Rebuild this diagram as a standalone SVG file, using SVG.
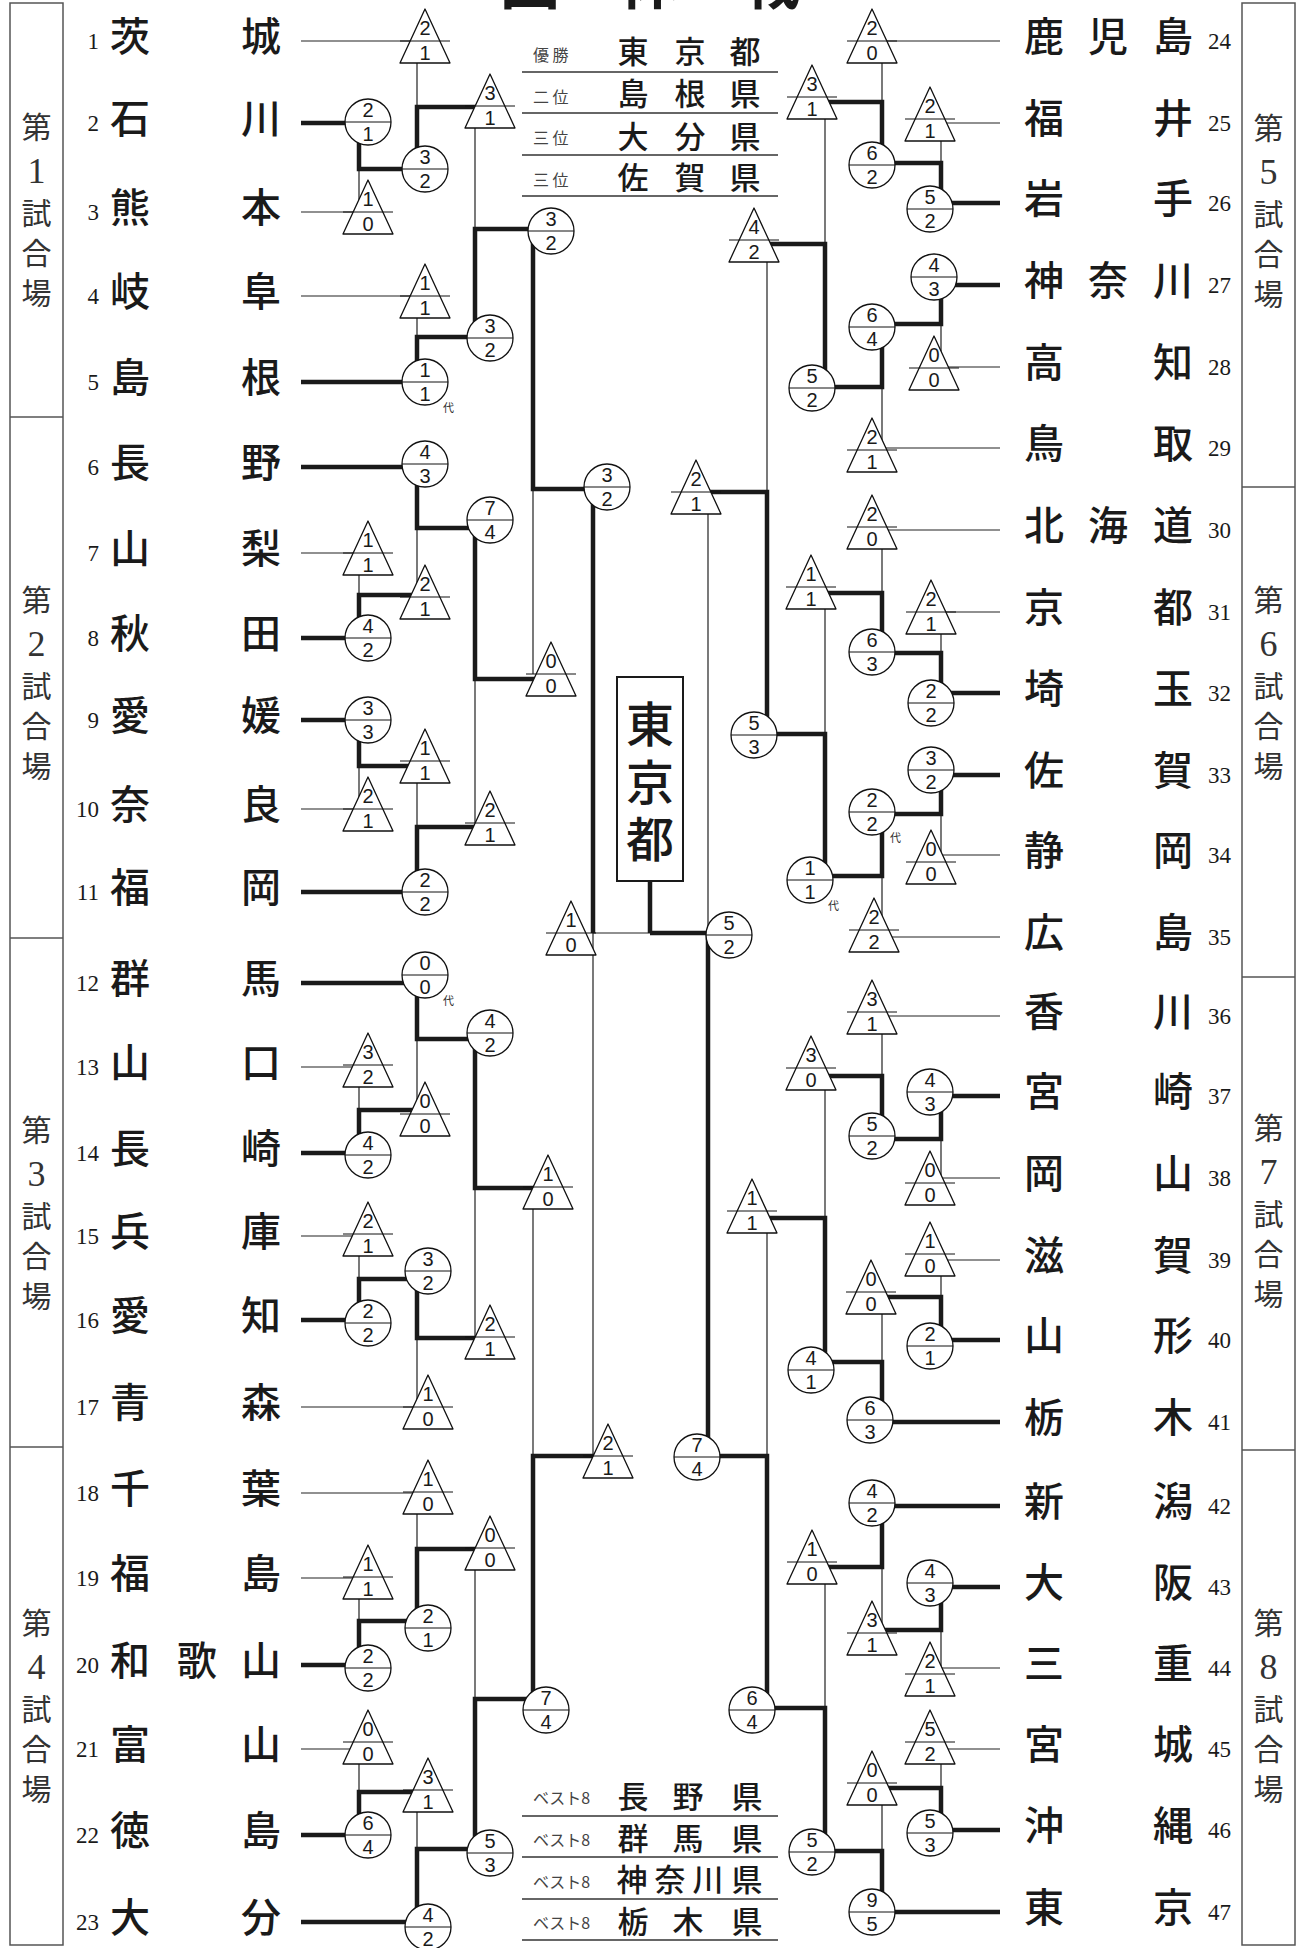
<svg xmlns="http://www.w3.org/2000/svg" xmlns:xlink="http://www.w3.org/1999/xlink" width="1300" height="1948" viewBox="0 0 1300 1948">
<defs>
<style>
.tn{font-family:"Noto Sans CJK JP","Noto Sans CJK SC",sans-serif;font-size:40px;font-weight:500;text-anchor:middle;fill:#1a1a1a}
.num{font-family:"Liberation Serif",serif;font-size:23px;fill:#1a1a1a}
.s{font-family:"Liberation Sans",Arial,sans-serif;font-size:20px;text-anchor:middle;fill:#1a1a1a}
.vn{font-family:"Noto Sans CJK JP",sans-serif;font-size:30px;text-anchor:middle;fill:#333}
.vd{font-family:"Liberation Serif",serif;font-size:36px;text-anchor:middle;fill:#333}
.lab{font-family:"Noto Sans CJK JP",sans-serif;font-size:16px;fill:#444}
.rn{font-family:"Noto Sans CJK JP",sans-serif;font-size:31px;font-weight:500;text-anchor:middle;fill:#1a1a1a}
.ch{font-family:"Noto Sans CJK JP",sans-serif;font-size:48px;font-weight:500;fill:#1a1a1a;writing-mode:vertical-rl;letter-spacing:9.5px}
.dai{font-family:"Noto Sans CJK JP",sans-serif;font-size:11px;fill:#333}
.thin{fill:none;stroke:#222;stroke-width:1.2}
.thick{fill:none;stroke:#1a1a1a;stroke-width:4.5;stroke-linejoin:miter}
.box{fill:none;stroke:#555;stroke-width:1.5}
.rule{stroke:#333;stroke-width:1.5}
</style>
<g id="circ"><circle r="23" fill="#fff" stroke="#111" stroke-width="1.3"/><line x1="-23" x2="23" stroke="#111" stroke-width="1"/></g>
<g id="tri"><path d="M0,-32 L25,22 L-25,22 Z" fill="#fff" stroke="#111" stroke-width="1.3" stroke-linejoin="round"/><line x1="-25" x2="25" stroke="#111" stroke-width="1"/></g>
</defs>
<rect width="1300" height="1948" fill="#fff"/>

<g id="title"><text x="650" y="4" font-family="Noto Sans CJK JP, sans-serif" font-size="60" font-weight="bold" text-anchor="middle" fill="#1a1a1a" xml:space="preserve">団　体　戦</text></g>

<g id="venue-boxes">
<rect class="box" x="10" y="3" width="53" height="1942"/>
<line class="box" x1="10" y1="417" x2="63" y2="417"/>
<line class="box" x1="10" y1="938" x2="63" y2="938"/>
<line class="box" x1="10" y1="1447" x2="63" y2="1447"/>
<rect class="box" x="1242" y="3" width="53" height="1942"/>
<line class="box" x1="1242" y1="487" x2="1295" y2="487"/>
<line class="box" x1="1242" y1="977" x2="1295" y2="977"/>
<line class="box" x1="1242" y1="1450" x2="1295" y2="1450"/>
</g>
<g id="venue1"><text class="vn" x="36.5" y="138">第</text><text class="vd" x="36.5" y="183">1</text><text class="vn" x="36.5" y="224">試</text><text class="vn" x="36.5" y="264">合</text><text class="vn" x="36.5" y="304">場</text></g>
<g id="venue2"><text class="vn" x="36.5" y="611">第</text><text class="vd" x="36.5" y="656">2</text><text class="vn" x="36.5" y="697">試</text><text class="vn" x="36.5" y="737">合</text><text class="vn" x="36.5" y="777">場</text></g>
<g id="venue3"><text class="vn" x="36.5" y="1141">第</text><text class="vd" x="36.5" y="1186">3</text><text class="vn" x="36.5" y="1227">試</text><text class="vn" x="36.5" y="1267">合</text><text class="vn" x="36.5" y="1307">場</text></g>
<g id="venue4"><text class="vn" x="36.5" y="1634">第</text><text class="vd" x="36.5" y="1679">4</text><text class="vn" x="36.5" y="1720">試</text><text class="vn" x="36.5" y="1760">合</text><text class="vn" x="36.5" y="1800">場</text></g>
<g id="venue5"><text class="vn" x="1268.5" y="139">第</text><text class="vd" x="1268.5" y="184">5</text><text class="vn" x="1268.5" y="225">試</text><text class="vn" x="1268.5" y="265">合</text><text class="vn" x="1268.5" y="305">場</text></g>
<g id="venue6"><text class="vn" x="1268.5" y="611">第</text><text class="vd" x="1268.5" y="656">6</text><text class="vn" x="1268.5" y="697">試</text><text class="vn" x="1268.5" y="737">合</text><text class="vn" x="1268.5" y="777">場</text></g>
<g id="venue7"><text class="vn" x="1268.5" y="1139">第</text><text class="vd" x="1268.5" y="1184">7</text><text class="vn" x="1268.5" y="1225">試</text><text class="vn" x="1268.5" y="1265">合</text><text class="vn" x="1268.5" y="1305">場</text></g>
<g id="venue8"><text class="vn" x="1268.5" y="1634">第</text><text class="vd" x="1268.5" y="1679">8</text><text class="vn" x="1268.5" y="1720">試</text><text class="vn" x="1268.5" y="1760">合</text><text class="vn" x="1268.5" y="1800">場</text></g>

<g id="results-top">
<line class="rule" x1="522" y1="72" x2="778" y2="72"/><line class="rule" x1="522" y1="113" x2="778" y2="113"/><line class="rule" x1="522" y1="155" x2="778" y2="155"/><line class="rule" x1="522" y1="196" x2="778" y2="196"/>
<text class="lab" x="533" y="61" xml:space="preserve">優 勝</text><text class="rn" x="633 690 745" y="63">東京都</text>
<text class="lab" x="533" y="103" xml:space="preserve">二 位</text><text class="rn" x="633 690 745" y="105">島根県</text>
<text class="lab" x="533" y="144" xml:space="preserve">三 位</text><text class="rn" x="633 690 745" y="148">大分県</text>
<text class="lab" x="533" y="186" xml:space="preserve">三 位</text><text class="rn" x="633 690 745" y="189">佐賀県</text>
</g>
<g id="results-bottom">
<line class="rule" x1="522" y1="1816" x2="778" y2="1816"/><line class="rule" x1="522" y1="1857" x2="778" y2="1857"/><line class="rule" x1="522" y1="1899" x2="778" y2="1899"/><line class="rule" x1="522" y1="1940" x2="778" y2="1940"/>
<text class="lab" x="533" y="1804">ベスト8</text><text class="rn" x="633 688 747" y="1808">長野県</text>
<text class="lab" x="533" y="1846">ベスト8</text><text class="rn" x="633 688 747" y="1850">群馬県</text>
<text class="lab" x="533" y="1888">ベスト8</text><text class="rn" x="632 670 708 747" y="1891">神奈川県</text>
<text class="lab" x="533" y="1929">ベスト8</text><text class="rn" x="633 688 747" y="1933">栃木県</text>
</g>

<g id="connectors">
<path class="thin" d="M301,41H425M301,212H368M301,296H425M301,553H368M301,809H368M301,1067H368M301,1236H368M301,1407H428M301,1493H428M301,1578H368M301,1749H368
M359,169V212M417,41V107M417,296V337M475,106V229M359,553V595M417,528V597M359,766V809M417,761V827M475,679V823M533,489V674
M359,1065V1110M417,1039V1114M359,1234V1279M417,1338V1407M475,1188V1337M359,1577V1621M417,1492V1549M359,1742V1792M417,1790V1849M475,1548V1699M533,1187V1456
M593,933V1456M593,933H650
M1000,41H872M1000,123H930M1000,367H934M1000,448H872M1000,530H872M1000,612H931M1000,855H931M1000,937H874M1000,1016H872M1000,1178H930M1000,1260H930M1000,1668H930M1000,1749H930
M941,119V163M882,41V102M941,324V368M882,387V450M825,97V244M941,612V653M882,527V593M941,814V862M882,876V930M825,587V734M767,240V492
M941,1139V1183M882,1012V1076M941,1254V1297M882,1292V1362M825,1068V1218M941,1630V1674M882,1567V1633M941,1742V1788M882,1783V1851M825,1562V1708M767,1211V1456
M708,492V933"/>
<path class="thick" d="M301,123H368M301,382H425M301,467H425M301,638H368M301,720H368M301,892H425M301,983H425M301,1153H368M301,1320H368M301,1665H368M301,1835H368M301,1922H428
M359,122V169H425M417,169V107H490M417,382V337H490M475,338V229H551M359,638V595H425M417,464V528H490M359,720V766H425M417,892V827H490M475,520V679H551M533,231V489H607
M359,1155V1110H425M417,975V1039H490M359,1323V1279H428M417,1271V1338H490M475,1033V1188H548M359,1668V1621H428M417,1628V1549H490M359,1835V1792H428M417,1927V1849H490M475,1853V1699H546M533,1710V1456H608
M593,487V933
M1000,203H930M1000,285H934M1000,693H931M1000,775H931M1000,1096H930M1000,1340H930M1000,1422H870M1000,1506H872M1000,1587H930M1000,1830H930M1000,1912H872
M941,209V163H872M882,165V102H812M941,277V324H872M882,327V387H812M825,388V244H754M941,703V653H872M882,652V593H811M941,770V814H872M882,812V876H810M825,880V734H754M767,735V492H696
M941,1092V1139H872M882,1136V1076H811M941,1346V1297H871M882,1420V1362H811M825,1370V1218H752M941,1583V1630H872M882,1503V1567H812M941,1833V1788H872M882,1912V1851H812M825,1852V1708H752M767,1710V1456H697
M708,1457V933H650M650,881V933"/>
</g>

<g id="champion"><rect x="617" y="677" width="66" height="204" fill="#fff" stroke="#1a1a1a" stroke-width="2"/><text class="ch" x="650" y="700">東京都</text></g>

<g id="teams-left">
<g id="team1"><text class="num" x="99" y="49" text-anchor="end">1</text><text class="tn" x="130 261" y="51">茨城</text></g>
<g id="team2"><text class="num" x="99" y="131" text-anchor="end">2</text><text class="tn" x="130 261" y="133">石川</text></g>
<g id="team3"><text class="num" x="99" y="220" text-anchor="end">3</text><text class="tn" x="130 261" y="222">熊本</text></g>
<g id="team4"><text class="num" x="99" y="304" text-anchor="end">4</text><text class="tn" x="130 261" y="306">岐阜</text></g>
<g id="team5"><text class="num" x="99" y="390" text-anchor="end">5</text><text class="tn" x="130 261" y="392">島根</text></g>
<g id="team6"><text class="num" x="99" y="475" text-anchor="end">6</text><text class="tn" x="130 261" y="477">長野</text></g>
<g id="team7"><text class="num" x="99" y="561" text-anchor="end">7</text><text class="tn" x="130 261" y="563">山梨</text></g>
<g id="team8"><text class="num" x="99" y="646" text-anchor="end">8</text><text class="tn" x="130 261" y="648">秋田</text></g>
<g id="team9"><text class="num" x="99" y="728" text-anchor="end">9</text><text class="tn" x="130 261" y="730">愛媛</text></g>
<g id="team10"><text class="num" x="99" y="817" text-anchor="end">10</text><text class="tn" x="130 261" y="819">奈良</text></g>
<g id="team11"><text class="num" x="99" y="900" text-anchor="end">11</text><text class="tn" x="130 261" y="902">福岡</text></g>
<g id="team12"><text class="num" x="99" y="991" text-anchor="end">12</text><text class="tn" x="130 261" y="993">群馬</text></g>
<g id="team13"><text class="num" x="99" y="1075" text-anchor="end">13</text><text class="tn" x="130 261" y="1077">山口</text></g>
<g id="team14"><text class="num" x="99" y="1161" text-anchor="end">14</text><text class="tn" x="130 261" y="1163">長崎</text></g>
<g id="team15"><text class="num" x="99" y="1244" text-anchor="end">15</text><text class="tn" x="130 261" y="1246">兵庫</text></g>
<g id="team16"><text class="num" x="99" y="1328" text-anchor="end">16</text><text class="tn" x="130 261" y="1330">愛知</text></g>
<g id="team17"><text class="num" x="99" y="1415" text-anchor="end">17</text><text class="tn" x="130 261" y="1417">青森</text></g>
<g id="team18"><text class="num" x="99" y="1501" text-anchor="end">18</text><text class="tn" x="130 261" y="1503">千葉</text></g>
<g id="team19"><text class="num" x="99" y="1586" text-anchor="end">19</text><text class="tn" x="130 261" y="1588">福島</text></g>
<g id="team20"><text class="num" x="99" y="1673" text-anchor="end">20</text><text class="tn" x="130 197 261" y="1675">和歌山</text></g>
<g id="team21"><text class="num" x="99" y="1757" text-anchor="end">21</text><text class="tn" x="130 261" y="1759">富山</text></g>
<g id="team22"><text class="num" x="99" y="1843" text-anchor="end">22</text><text class="tn" x="130 261" y="1845">徳島</text></g>
<g id="team23"><text class="num" x="99" y="1930" text-anchor="end">23</text><text class="tn" x="130 261" y="1932">大分</text></g>
</g>

<g id="teams-right">
<g id="team24"><text class="tn" x="1044 1108 1173" y="51">鹿児島</text><text class="num" x="1208" y="49">24</text></g>
<g id="team25"><text class="tn" x="1044 1173" y="133">福井</text><text class="num" x="1208" y="131">25</text></g>
<g id="team26"><text class="tn" x="1044 1173" y="213">岩手</text><text class="num" x="1208" y="211">26</text></g>
<g id="team27"><text class="tn" x="1044 1108 1173" y="295">神奈川</text><text class="num" x="1208" y="293">27</text></g>
<g id="team28"><text class="tn" x="1044 1173" y="377">高知</text><text class="num" x="1208" y="375">28</text></g>
<g id="team29"><text class="tn" x="1044 1173" y="458">鳥取</text><text class="num" x="1208" y="456">29</text></g>
<g id="team30"><text class="tn" x="1044 1108 1173" y="540">北海道</text><text class="num" x="1208" y="538">30</text></g>
<g id="team31"><text class="tn" x="1044 1173" y="622">京都</text><text class="num" x="1208" y="620">31</text></g>
<g id="team32"><text class="tn" x="1044 1173" y="703">埼玉</text><text class="num" x="1208" y="701">32</text></g>
<g id="team33"><text class="tn" x="1044 1173" y="785">佐賀</text><text class="num" x="1208" y="783">33</text></g>
<g id="team34"><text class="tn" x="1044 1173" y="865">静岡</text><text class="num" x="1208" y="863">34</text></g>
<g id="team35"><text class="tn" x="1044 1173" y="947">広島</text><text class="num" x="1208" y="945">35</text></g>
<g id="team36"><text class="tn" x="1044 1173" y="1026">香川</text><text class="num" x="1208" y="1024">36</text></g>
<g id="team37"><text class="tn" x="1044 1173" y="1106">宮崎</text><text class="num" x="1208" y="1104">37</text></g>
<g id="team38"><text class="tn" x="1044 1173" y="1188">岡山</text><text class="num" x="1208" y="1186">38</text></g>
<g id="team39"><text class="tn" x="1044 1173" y="1270">滋賀</text><text class="num" x="1208" y="1268">39</text></g>
<g id="team40"><text class="tn" x="1044 1173" y="1350">山形</text><text class="num" x="1208" y="1348">40</text></g>
<g id="team41"><text class="tn" x="1044 1173" y="1432">栃木</text><text class="num" x="1208" y="1430">41</text></g>
<g id="team42"><text class="tn" x="1044 1173" y="1516">新潟</text><text class="num" x="1208" y="1514">42</text></g>
<g id="team43"><text class="tn" x="1044 1173" y="1597">大阪</text><text class="num" x="1208" y="1595">43</text></g>
<g id="team44"><text class="tn" x="1044 1173" y="1678">三重</text><text class="num" x="1208" y="1676">44</text></g>
<g id="team45"><text class="tn" x="1044 1173" y="1759">宮城</text><text class="num" x="1208" y="1757">45</text></g>
<g id="team46"><text class="tn" x="1044 1173" y="1840">沖縄</text><text class="num" x="1208" y="1838">46</text></g>
<g id="team47"><text class="tn" x="1044 1173" y="1922">東京</text><text class="num" x="1208" y="1920">47</text></g>
</g>

<g id="scores-left">
<g id="L1" transform="translate(425,41)"><use href="#tri"/><text class="s" y="-6">2</text><text class="s" y="19">1</text></g>
<g id="L2" transform="translate(368,122)"><use href="#circ"/><text class="s" y="-5">2</text><text class="s" y="19">1</text></g>
<g id="L3" transform="translate(368,212)"><use href="#tri"/><text class="s" y="-6">1</text><text class="s" y="19">0</text></g>
<g id="L4" transform="translate(425,169)"><use href="#circ"/><text class="s" y="-5">3</text><text class="s" y="19">2</text></g>
<g id="L5" transform="translate(490,106)"><use href="#tri"/><text class="s" y="-6">3</text><text class="s" y="19">1</text></g>
<g id="L6" transform="translate(425,296)"><use href="#tri"/><text class="s" y="-6">1</text><text class="s" y="19">1</text></g>
<g id="L7" transform="translate(425,382)"><use href="#circ"/><text class="s" y="-5">1</text><text class="s" y="19">1</text><text class="dai" x="18" y="30">代</text></g>
<g id="L8" transform="translate(490,338)"><use href="#circ"/><text class="s" y="-5">3</text><text class="s" y="19">2</text></g>
<g id="L9" transform="translate(551,231)"><use href="#circ"/><text class="s" y="-5">3</text><text class="s" y="19">2</text></g>
<g id="L10" transform="translate(607,487)"><use href="#circ"/><text class="s" y="-5">3</text><text class="s" y="19">2</text></g>
<g id="L12" transform="translate(425,464)"><use href="#circ"/><text class="s" y="-5">4</text><text class="s" y="19">3</text></g>
<g id="L13" transform="translate(368,553)"><use href="#tri"/><text class="s" y="-6">1</text><text class="s" y="19">1</text></g>
<g id="L14" transform="translate(368,638)"><use href="#circ"/><text class="s" y="-5">4</text><text class="s" y="19">2</text></g>
<g id="L15" transform="translate(425,597)"><use href="#tri"/><text class="s" y="-6">2</text><text class="s" y="19">1</text></g>
<g id="L16" transform="translate(490,520)"><use href="#circ"/><text class="s" y="-5">7</text><text class="s" y="19">4</text></g>
<g id="L17" transform="translate(551,674)"><use href="#tri"/><text class="s" y="-6">0</text><text class="s" y="19">0</text></g>
<g id="L18" transform="translate(368,720)"><use href="#circ"/><text class="s" y="-5">3</text><text class="s" y="19">3</text></g>
<g id="L19" transform="translate(368,809)"><use href="#tri"/><text class="s" y="-6">2</text><text class="s" y="19">1</text></g>
<g id="L20" transform="translate(425,761)"><use href="#tri"/><text class="s" y="-6">1</text><text class="s" y="19">1</text></g>
<g id="L21" transform="translate(425,892)"><use href="#circ"/><text class="s" y="-5">2</text><text class="s" y="19">2</text></g>
<g id="L22" transform="translate(490,823)"><use href="#tri"/><text class="s" y="-6">2</text><text class="s" y="19">1</text></g>
<g id="L23" transform="translate(425,975)"><use href="#circ"/><text class="s" y="-5">0</text><text class="s" y="19">0</text><text class="dai" x="18" y="30">代</text></g>
<g id="L24" transform="translate(368,1065)"><use href="#tri"/><text class="s" y="-6">3</text><text class="s" y="19">2</text></g>
<g id="L25" transform="translate(368,1155)"><use href="#circ"/><text class="s" y="-5">4</text><text class="s" y="19">2</text></g>
<g id="L26" transform="translate(425,1114)"><use href="#tri"/><text class="s" y="-6">0</text><text class="s" y="19">0</text></g>
<g id="L27" transform="translate(490,1033)"><use href="#circ"/><text class="s" y="-5">4</text><text class="s" y="19">2</text></g>
<g id="L28" transform="translate(548,1187)"><use href="#tri"/><text class="s" y="-6">1</text><text class="s" y="19">0</text></g>
<g id="L29" transform="translate(368,1234)"><use href="#tri"/><text class="s" y="-6">2</text><text class="s" y="19">1</text></g>
<g id="L30" transform="translate(368,1323)"><use href="#circ"/><text class="s" y="-5">2</text><text class="s" y="19">2</text></g>
<g id="L31" transform="translate(428,1271)"><use href="#circ"/><text class="s" y="-5">3</text><text class="s" y="19">2</text></g>
<g id="L32" transform="translate(428,1407)"><use href="#tri"/><text class="s" y="-6">1</text><text class="s" y="19">0</text></g>
<g id="L33" transform="translate(490,1337)"><use href="#tri"/><text class="s" y="-6">2</text><text class="s" y="19">1</text></g>
<g id="L34" transform="translate(428,1492)"><use href="#tri"/><text class="s" y="-6">1</text><text class="s" y="19">0</text></g>
<g id="L35" transform="translate(368,1577)"><use href="#tri"/><text class="s" y="-6">1</text><text class="s" y="19">1</text></g>
<g id="L36" transform="translate(368,1668)"><use href="#circ"/><text class="s" y="-5">2</text><text class="s" y="19">2</text></g>
<g id="L37" transform="translate(428,1628)"><use href="#circ"/><text class="s" y="-5">2</text><text class="s" y="19">1</text></g>
<g id="L38" transform="translate(490,1548)"><use href="#tri"/><text class="s" y="-6">0</text><text class="s" y="19">0</text></g>
<g id="L39" transform="translate(368,1742)"><use href="#tri"/><text class="s" y="-6">0</text><text class="s" y="19">0</text></g>
<g id="L40" transform="translate(368,1835)"><use href="#circ"/><text class="s" y="-5">6</text><text class="s" y="19">4</text></g>
<g id="L41" transform="translate(428,1790)"><use href="#tri"/><text class="s" y="-6">3</text><text class="s" y="19">1</text></g>
<g id="L42" transform="translate(428,1927)"><use href="#circ"/><text class="s" y="-5">4</text><text class="s" y="19">2</text></g>
<g id="L43" transform="translate(490,1853)"><use href="#circ"/><text class="s" y="-5">5</text><text class="s" y="19">3</text></g>
<g id="L44" transform="translate(546,1710)"><use href="#circ"/><text class="s" y="-5">7</text><text class="s" y="19">4</text></g>
<g id="L45" transform="translate(608,1456)"><use href="#tri"/><text class="s" y="-6">2</text><text class="s" y="19">1</text></g>
<g id="FL" transform="translate(571,933)"><use href="#tri"/><text class="s" y="-6">1</text><text class="s" y="19">0</text></g>
</g>

<g id="scores-right">
<g id="FR" transform="translate(729,935)"><use href="#circ"/><text class="s" y="-5">5</text><text class="s" y="19">2</text></g>
<g id="R46" transform="translate(872,41)"><use href="#tri"/><text class="s" y="-6">2</text><text class="s" y="19">0</text></g>
<g id="R47" transform="translate(930,119)"><use href="#tri"/><text class="s" y="-6">2</text><text class="s" y="19">1</text></g>
<g id="R48" transform="translate(930,209)"><use href="#circ"/><text class="s" y="-5">5</text><text class="s" y="19">2</text></g>
<g id="R49" transform="translate(872,165)"><use href="#circ"/><text class="s" y="-5">6</text><text class="s" y="19">2</text></g>
<g id="R50" transform="translate(812,97)"><use href="#tri"/><text class="s" y="-6">3</text><text class="s" y="19">1</text></g>
<g id="R51" transform="translate(934,277)"><use href="#circ"/><text class="s" y="-5">4</text><text class="s" y="19">3</text></g>
<g id="R52" transform="translate(934,368)"><use href="#tri"/><text class="s" y="-6">0</text><text class="s" y="19">0</text></g>
<g id="R53" transform="translate(872,327)"><use href="#circ"/><text class="s" y="-5">6</text><text class="s" y="19">4</text></g>
<g id="R54" transform="translate(872,450)"><use href="#tri"/><text class="s" y="-6">2</text><text class="s" y="19">1</text></g>
<g id="R55" transform="translate(812,388)"><use href="#circ"/><text class="s" y="-5">5</text><text class="s" y="19">2</text></g>
<g id="R56" transform="translate(754,240)"><use href="#tri"/><text class="s" y="-6">4</text><text class="s" y="19">2</text></g>
<g id="R57" transform="translate(696,492)"><use href="#tri"/><text class="s" y="-6">2</text><text class="s" y="19">1</text></g>
<g id="R58" transform="translate(872,527)"><use href="#tri"/><text class="s" y="-6">2</text><text class="s" y="19">0</text></g>
<g id="R59" transform="translate(931,612)"><use href="#tri"/><text class="s" y="-6">2</text><text class="s" y="19">1</text></g>
<g id="R60" transform="translate(931,703)"><use href="#circ"/><text class="s" y="-5">2</text><text class="s" y="19">2</text></g>
<g id="R61" transform="translate(872,652)"><use href="#circ"/><text class="s" y="-5">6</text><text class="s" y="19">3</text></g>
<g id="R62" transform="translate(811,587)"><use href="#tri"/><text class="s" y="-6">1</text><text class="s" y="19">1</text></g>
<g id="R63" transform="translate(931,770)"><use href="#circ"/><text class="s" y="-5">3</text><text class="s" y="19">2</text></g>
<g id="R64" transform="translate(931,862)"><use href="#tri"/><text class="s" y="-6">0</text><text class="s" y="19">0</text></g>
<g id="R65" transform="translate(872,812)"><use href="#circ"/><text class="s" y="-5">2</text><text class="s" y="19">2</text><text class="dai" x="18" y="30">代</text></g>
<g id="R66" transform="translate(874,930)"><use href="#tri"/><text class="s" y="-6">2</text><text class="s" y="19">2</text></g>
<g id="R67" transform="translate(810,880)"><use href="#circ"/><text class="s" y="-5">1</text><text class="s" y="19">1</text><text class="dai" x="18" y="30">代</text></g>
<g id="R68" transform="translate(754,735)"><use href="#circ"/><text class="s" y="-5">5</text><text class="s" y="19">3</text></g>
<g id="R69" transform="translate(872,1012)"><use href="#tri"/><text class="s" y="-6">3</text><text class="s" y="19">1</text></g>
<g id="R70" transform="translate(930,1092)"><use href="#circ"/><text class="s" y="-5">4</text><text class="s" y="19">3</text></g>
<g id="R71" transform="translate(930,1183)"><use href="#tri"/><text class="s" y="-6">0</text><text class="s" y="19">0</text></g>
<g id="R72" transform="translate(872,1136)"><use href="#circ"/><text class="s" y="-5">5</text><text class="s" y="19">2</text></g>
<g id="R73" transform="translate(811,1068)"><use href="#tri"/><text class="s" y="-6">3</text><text class="s" y="19">0</text></g>
<g id="R74" transform="translate(930,1254)"><use href="#tri"/><text class="s" y="-6">1</text><text class="s" y="19">0</text></g>
<g id="R75" transform="translate(930,1346)"><use href="#circ"/><text class="s" y="-5">2</text><text class="s" y="19">1</text></g>
<g id="R76" transform="translate(871,1292)"><use href="#tri"/><text class="s" y="-6">0</text><text class="s" y="19">0</text></g>
<g id="R77" transform="translate(870,1420)"><use href="#circ"/><text class="s" y="-5">6</text><text class="s" y="19">3</text></g>
<g id="R78" transform="translate(811,1370)"><use href="#circ"/><text class="s" y="-5">4</text><text class="s" y="19">1</text></g>
<g id="R79" transform="translate(752,1211)"><use href="#tri"/><text class="s" y="-6">1</text><text class="s" y="19">1</text></g>
<g id="R80" transform="translate(697,1457)"><use href="#circ"/><text class="s" y="-5">7</text><text class="s" y="19">4</text></g>
<g id="R81" transform="translate(872,1503)"><use href="#circ"/><text class="s" y="-5">4</text><text class="s" y="19">2</text></g>
<g id="R82" transform="translate(930,1583)"><use href="#circ"/><text class="s" y="-5">4</text><text class="s" y="19">3</text></g>
<g id="R83" transform="translate(930,1674)"><use href="#tri"/><text class="s" y="-6">2</text><text class="s" y="19">1</text></g>
<g id="R84" transform="translate(872,1633)"><use href="#tri"/><text class="s" y="-6">3</text><text class="s" y="19">1</text></g>
<g id="R85" transform="translate(812,1562)"><use href="#tri"/><text class="s" y="-6">1</text><text class="s" y="19">0</text></g>
<g id="R86" transform="translate(930,1742)"><use href="#tri"/><text class="s" y="-6">5</text><text class="s" y="19">2</text></g>
<g id="R87" transform="translate(930,1833)"><use href="#circ"/><text class="s" y="-5">5</text><text class="s" y="19">3</text></g>
<g id="R88" transform="translate(872,1783)"><use href="#tri"/><text class="s" y="-6">0</text><text class="s" y="19">0</text></g>
<g id="R89" transform="translate(872,1912)"><use href="#circ"/><text class="s" y="-5">9</text><text class="s" y="19">5</text></g>
<g id="R90" transform="translate(812,1852)"><use href="#circ"/><text class="s" y="-5">5</text><text class="s" y="19">2</text></g>
<g id="R91" transform="translate(752,1710)"><use href="#circ"/><text class="s" y="-5">6</text><text class="s" y="19">4</text></g>
</g>
</svg>
